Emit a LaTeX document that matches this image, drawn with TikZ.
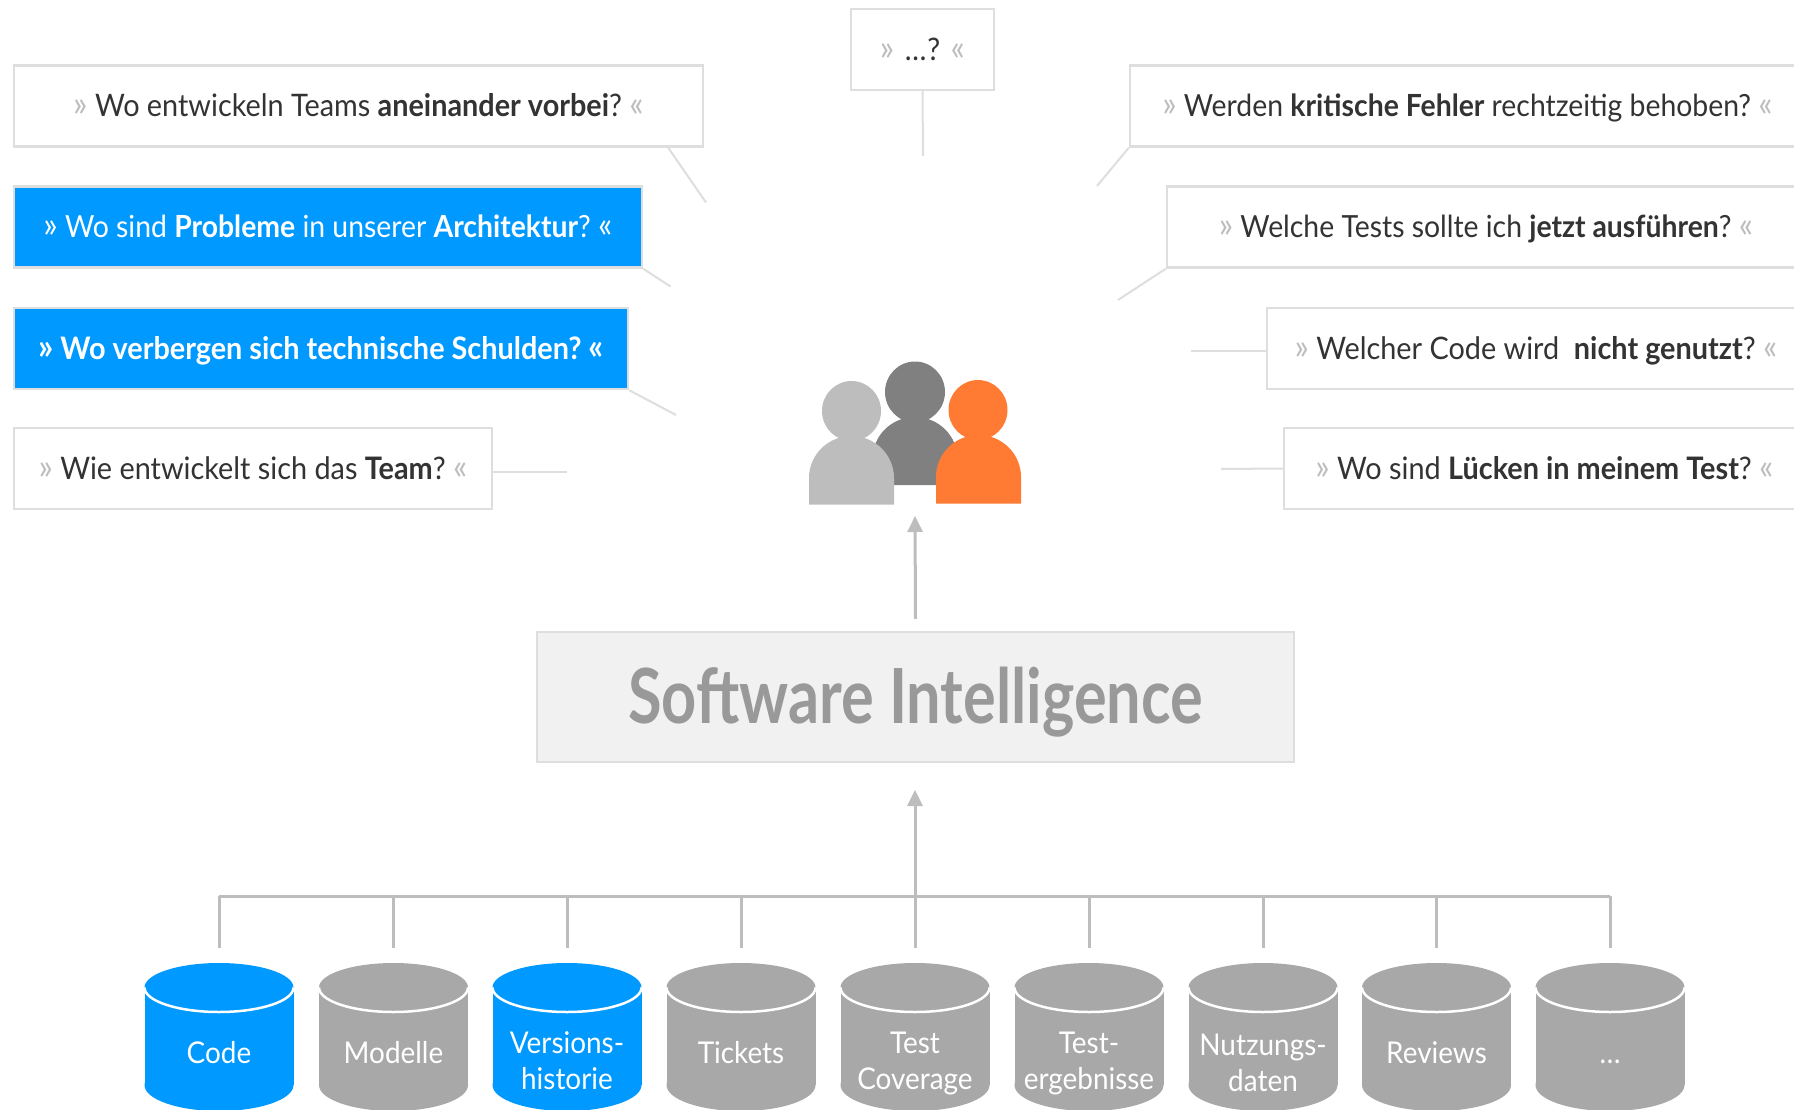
\documentclass[tikz,border=0pt]{standalone}
\usepackage{fontspec}
\setmainfont[FakeStretch=0.93]{Lato}
\newfontfamily\sifont[FakeStretch=0.806]{Lato}
\usetikzlibrary{arrows.meta,calc}
\definecolor{bord}{HTML}{DEDEDE}
\definecolor{guil}{HTML}{BDBDBD}
\definecolor{txt}{HTML}{333333}
\definecolor{azure}{HTML}{0099FF}
\definecolor{cylgray}{HTML}{A8A8A8}
\definecolor{linegray}{HTML}{BDBDBD}
\definecolor{conngray}{HTML}{DEDEDE}
\definecolor{darkp}{HTML}{808080}
\definecolor{orangep}{HTML}{FF7B33}
\definecolor{sifill}{HTML}{F1F1F1}
\definecolor{sitext}{HTML}{999999}
\newcommand\gmo{{\fontsize{36}{36}\selectfont»}}
\newcommand\gmc{{\fontsize{36}{36}\selectfont«}}
\newcommand\gq[1]{{\color{guil}\gmo}\ #1\ {\color{guil}\gmc}}
\newcommand\wq[1]{\gmo\ #1\ \gmc}
\newcommand\cylbody[3]{%
  \fill[#2] (#1-74.5,987.5) rectangle (#1+74.5,1085);
  \fill[#2] (#1,1085) ellipse [x radius=74.5,y radius=26];
  \fill[#2] (#1,987.5) ellipse [x radius=74.5,y radius=24.5];
  \draw[white,line width=2.5pt] (#1-74.5,987.5) arc [start angle=180,end angle=0,x radius=74.5,y radius=24.5];
  \coordinate (b#3) at (#1,896);
  \coordinate (d#3) at (#1,948);
  \draw[bus] (b#3) -- (d#3);
}
\tikzset{
  qbox/.style={draw=bord,line width=2.5pt,fill=white,minimum height=81pt,inner sep=0pt,text=txt,text height=24pt,text depth=2pt,font=\fontsize{31}{36}\selectfont},
  tight/.style={font=\fontsize{30.5}{36}\selectfont},
  hot/.style={fill=azure,text=white},
  conn/.style={draw=conngray,line width=2pt},
  bus/.style={draw=linegray,line width=3pt},
  arrowup/.style={draw=linegray,line width=3pt,-{Triangle[length=16pt,width=15pt]}},
  cyltext/.style={text=white,align=center,inner sep=0pt,font=\fontsize{30}{36}\selectfont},
}
\begin{document}
\begin{tikzpicture}[x=1pt,y=-1pt]
\clip (0,0) rectangle (1794,1110);
\fill[white] (0,0) rectangle (1794,1110);
% question boxes
\node[qbox,minimum width=143pt] (top) at (922.5,49.5) {\gq{\kern3pt…\kern1pt?\kern3pt}};
\node[qbox,minimum width=689pt] (l1) at (358.5,106) {\gq{Wo entwickeln Teams \textbf{aneinander vorbei}?}};
\node[qbox,tight,minimum width=628pt,hot] (l2) at (328,227) {\wq{Wo sind \textbf{Probleme} in unserer \textbf{Architektur}?}};
\node[qbox,minimum width=614pt,hot] (l3) at (321,348.5) {\textbf{\wq{Wo verbergen sich technische Schulden?}}};
\node[qbox,minimum width=478pt] (l4) at (253,468.5) {\gq{Wie entwickelt sich das \textbf{Team}?}};
\node[qbox,tight,minimum width=675pt] (r1) at (1467.5,106) {\gq{Werden \textbf{kritische Fehler} rechtzeitig behoben?}};
\node[qbox,tight,minimum width=638pt] (r2) at (1486,227) {\gq{Welche Tests sollte ich \textbf{jetzt ausführen}?}};
\node[qbox,minimum width=538pt] (r3) at (1536,348.5) {\gq{Welcher Code wird\ \ \textbf{nicht genutzt}?}};
\node[qbox,minimum width=521pt] (r4) at (1544.5,468.5) {\gq{Wo sind \textbf{Lücken in meinem Test}?}};
% free ends of the question connectors
\coordinate (etop) at (923,156);
\coordinate (el1) at (706,202.5);
\coordinate (el2) at (670.5,286.5);
\coordinate (el3) at (676,415);
\coordinate (el4) at (567,472);
\coordinate (er1) at (1097,186);
\coordinate (er2) at (1118,300);
\coordinate (er3) at (1191,350.5);
\coordinate (er4) at (1221,469);
\draw[conn] (top.south) -- (etop);
\draw[conn] ($(l1.south east)+(-36,0)$) -- (el1);
\draw[conn] (l2.south east) -- (el2);
\draw[conn] (l3.south east) -- (el3);
\draw[conn] ($(l4.east)+(0,3.5)$) -- (el4);
\draw[conn] (r1.south west) -- (er1);
\draw[conn] (r2.south west) -- (er2);
\draw[conn] ($(r3.west)+(0,2)$) -- (er3);
\draw[conn] (r4.west) -- (er4);
% people
\fill[darkp] (915,392) ellipse [x radius=30,y radius=30.5];
\fill[darkp] (872.5,485) -- (872.5,459) arc [start angle=180,end angle=360,x radius=42.5,y radius=42] -- (957.5,485) -- cycle;
\fill[guil] (851.5,411) ellipse [x radius=29.5,y radius=30];
\fill[guil] (809,504.5) -- (809,478) arc [start angle=180,end angle=360,x radius=42.5,y radius=42] -- (894,504.5) -- cycle;
\fill[orangep] (978,410) ellipse [x radius=29.5,y radius=30];
\fill[orangep] (936,503.5) -- (936,477) arc [start angle=180,end angle=360,x radius=42.5,y radius=42] -- (1021,503.5) -- cycle;
% central box
\node[draw=bord,line width=2.5pt,fill=sifill,minimum width=757pt,minimum height=130pt,inner sep=0pt,text=sitext,text height=52pt,text depth=0pt,font=\fontsize{76}{80}\sifont\bfseries] (si) at (915.5,697) {Software Intelligence};
\coordinate (ptip) at (915,516);
\draw[arrowup] ($(si.north)+(0,-12)$) -- (ptip);
% cylinders
\cylbody{219}{azure}{1}
\cylbody{393.5}{cylgray}{2}
\cylbody{567}{azure}{3}
\cylbody{741}{cylgray}{4}
\cylbody{915}{cylgray}{5}
\cylbody{1089}{cylgray}{6}
\cylbody{1263}{cylgray}{7}
\cylbody{1436.5}{cylgray}{8}
\cylbody{1610}{cylgray}{9}
\draw[bus] (b1) -- (b9);
\coordinate (sitip) at (915,790);
\draw[arrowup] (b5) -- (sitip);
\node[cyltext] (c1) at (219,1053) {Code};
\node[cyltext] (c2) at (393.5,1053) {Modelle};
\node[cyltext] (c3) at (567,1061) {Versions-\\historie};
\node[cyltext] (c4) at (741,1053) {Tickets};
\node[cyltext] (c5) at (915,1063) {Test\\Coverage};
\node[cyltext] (c6) at (1089,1063) {Test-\\ergebnisse};
\node[cyltext] (c7) at (1263,1063) {Nutzungs-\\daten};
\node[cyltext] (c8) at (1436.5,1053) {Reviews};
\node[cyltext] (c9) at (1610,1062) {…};
\end{tikzpicture}
\end{document}
